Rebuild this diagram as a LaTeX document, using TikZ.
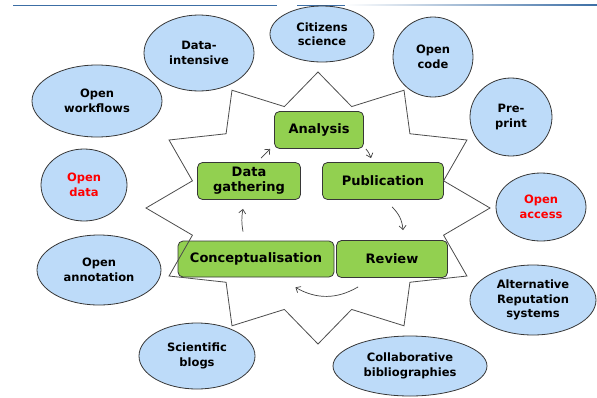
\documentclass[tikz,border=0pt]{standalone}
\usepackage{fontspec}
\setmainfont{DejaVu Sans}
\usetikzlibrary{shapes.geometric,calc,arrows.meta}

\definecolor{bubblefill}{RGB}{189,219,249}
\definecolor{stepgreen}{RGB}{146,208,80}
\definecolor{rimline}{RGB}{55,55,55}
\definecolor{headblue}{RGB}{60,110,165}

\begin{document}
\begin{tikzpicture}[x=1pt, y=-1pt, % one unit is one pixel, y runs down
    bubble/.style={ellipse, draw=rimline, fill=bubblefill, inner sep=0pt,
      line width=0.8pt, font=\fontsize{11.5}{14.5}\selectfont\bfseries, align=center},
    stepbox/.style={rectangle, rounded corners=5pt, draw=rimline, fill=stepgreen,
      line width=0.8pt, inner sep=0pt, font=\fontsize{13}{15}\selectfont\bfseries, align=center},
    flow/.style={-{Straight Barb[length=4pt,width=7pt]}, draw=black!75, line width=0.7pt},
    starline/.style={draw=black!70, line width=0.8pt}
   ]
  \useasboundingbox (0,0) rectangle (597,397);

  % header rule
  \draw[headblue, line width=1pt] (13,5) -- (277,5);
  \draw[headblue, line width=1pt] (297,5) -- (345,5);
  \shade[left color=white, right color=headblue] (345,4.5) rectangle (597,5.5);

  % outer bubbles
  \node[bubble, minimum width=110, minimum height=76] (intensive) at (199,53) {Data-\\intensive};
  \node[bubble, minimum width=104, minimum height=56] (citizens) at (322,34) {Citizens\\science};
  \node[bubble, minimum width=80, minimum height=80] (code) at (433,57) {Open\\code};
  \node[bubble, minimum width=82, minimum height=78] (preprint) at (511,117) {Pre-\\print};
  \node[bubble, minimum width=90, minimum height=68, text=red] (access) at (541,207) {Open\\access};
  \node[bubble, minimum width=126, minimum height=70] (reputation) at (533,300) {Alternative\\Reputation\\systems};
  \node[bubble, minimum width=154, minimum height=60] (biblio) at (410,366) {Collaborative\\bibliographies};
  \node[bubble, minimum width=116, minimum height=66] (blogs) at (197,356) {Scientific\\blogs};
  \node[bubble, minimum width=124, minimum height=70] (annotation) at (99,270) {Open\\annotation};
  \node[bubble, minimum width=86, minimum height=72, text=red] (opendata) at (84,185) {Open\\data};
  \node[bubble, minimum width=130, minimum height=72] (workflows) at (97,101) {Open\\workflows};

  % research cycle
  \node[stepbox, minimum width=89, minimum height=37] (ana) at (319,130) {Analysis};
  \node[stepbox, minimum width=103, minimum height=37] (gath) at (249,181) {Data\\gathering};
  \node[stepbox, minimum width=121, minimum height=37] (pub) at (383,181) {Publication};
  \node[stepbox, minimum width=156, minimum height=36] (con) at (256,259) {Conceptualisation};
  \node[stepbox, minimum width=111, minimum height=37] (rev) at (392,259) {Review};

  \draw[flow] ($(gath.north)+(12,-4)$) -- ($(ana.south west)+(-4,0)$);
  \draw[flow] ($(ana.south east)+(2,0)$) to[bend left=10] ($(pub.north)+(-12,-4)$);
  \draw[flow] ($(pub.south)+(9,7)$) to[bend left=20] ($(rev.north)+(11,-10)$);
  \draw[flow] ($(rev.south west)+(22,9)$) to[bend left=30] ($(con.south east)+(-39,10)$);
  \draw[flow] ($(con.north)+(-13,-9)$) to[bend left=10] ($(gath.south)+(-6,9)$);

  % twelve-point star round the cycle
  \draw[starline] (318,72)
    \foreach \a in {0,30,...,330} {
      -- ({318+130*cos(75-\a)},{208-105*sin(75-\a)})
      -- ({318+172*cos(60-\a)},{208-136*sin(60-\a)})
    } -- cycle;
\end{tikzpicture}
\end{document}
